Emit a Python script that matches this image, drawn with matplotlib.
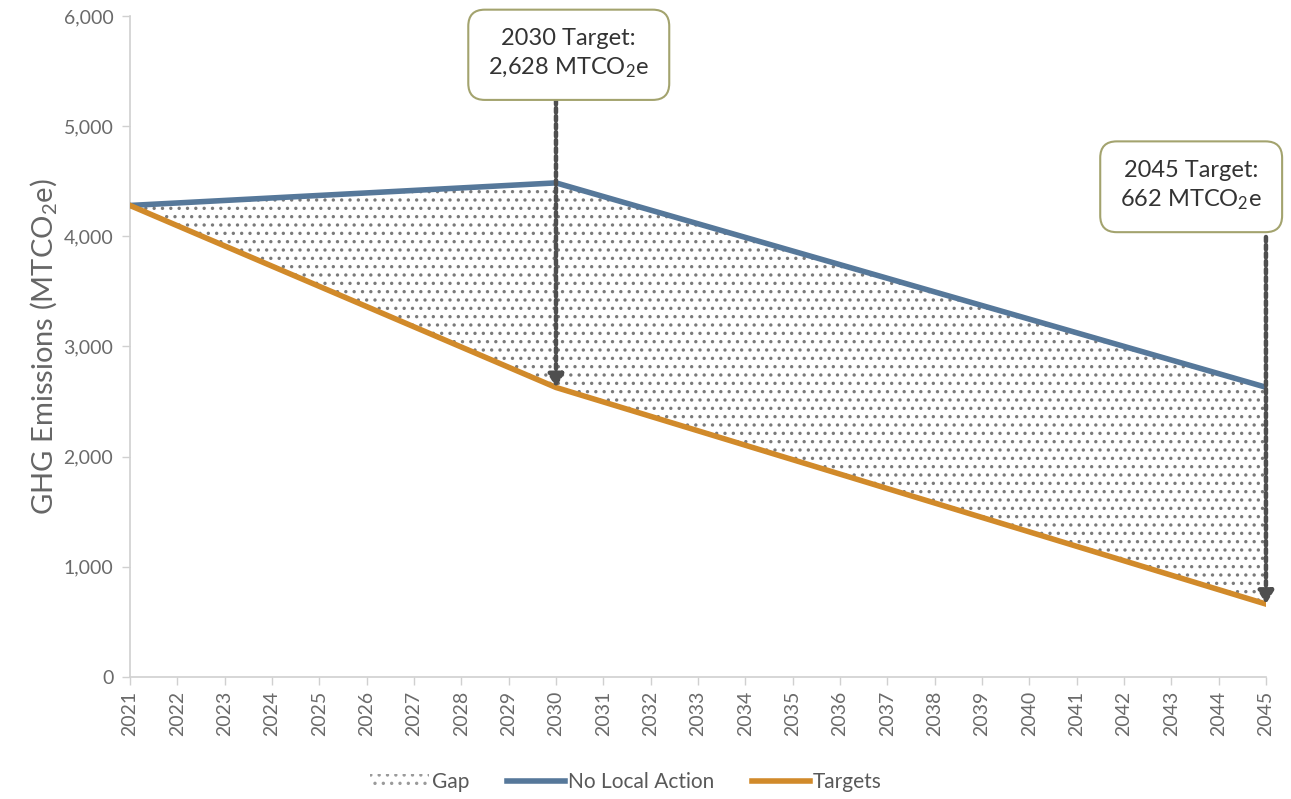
import matplotlib
matplotlib.use("Agg")
import matplotlib.pyplot as plt
import matplotlib.patches as mpatches
from matplotlib.lines import Line2D
from matplotlib.ticker import FuncFormatter

plt.rcParams['font.family'] = ['Lato', 'DejaVu Sans']
plt.rcParams['mathtext.fontset'] = 'custom'
plt.rcParams['mathtext.rm'] = 'Lato'
plt.rcParams['mathtext.it'] = 'Lato:italic'
plt.rcParams['hatch.color'] = '#7a7a7a'
plt.rcParams['hatch.linewidth'] = 1.2

# 데이터 (꺾이는 연도만)
years = [2021, 2030, 2045]
no_action = [4280, 4485, 2630]
targets = [4280, 2628, 662]
all_years = list(range(2021, 2046))

BLUE = '#56789a'
ORANGE = '#d18a2a'
GRAY = '#595959'
AXIS = '#d0d0d0'

fig = plt.figure(figsize=(12.91, 7.99), dpi=100)
ax = fig.add_axes([0.1007, 0.1527, 0.8799, 0.8273])

ax.fill_between(years, targets, no_action, facecolor='white', edgecolor='#7a7a7a',
                hatch='..', linewidth=0, zorder=1)
ax.plot(years, no_action, color=BLUE, lw=4, solid_joinstyle='round', zorder=3)
ax.plot(years, targets, color=ORANGE, lw=4, solid_joinstyle='round', zorder=3)

ax.set_xlim(2021, 2045)
ax.set_ylim(0, 6000)
ax.set_xticks(all_years)
ax.set_xticklabels([str(y) for y in all_years], rotation=90)
ax.set_yticks(range(0, 6001, 1000))
ax.yaxis.set_major_formatter(FuncFormatter(lambda v, p: f'{int(v):,}'))
ax.tick_params(axis='both', colors=AXIS, labelcolor='#6a6a6a', labelsize=14, length=6, width=1)
ax.tick_params(axis='x', pad=4)
ax.tick_params(axis='y', pad=6)
for s in ['top', 'right']:
    ax.spines[s].set_visible(False)
for s in ['left', 'bottom']:
    ax.spines[s].set_color(AXIS)
    ax.spines[s].set_linewidth(1.2)
ax.set_ylabel('GHG Emissions (MTCO$_2$e)', fontsize=21, color='#666666', labelpad=3)

box = dict(boxstyle='round,pad=0.85,rounding_size=0.7', fc='white', ec='#a3a36e', lw=1.5)
arrow = dict(arrowstyle='-|>,head_length=0.75,head_width=0.45', linestyle=(0, (1, 0.8)),
             lw=3.2, color='#4f4f4f', shrinkA=0, shrinkB=0)

# 박스 텍스트
ax.text(2030.27, 5655, '2030 Target:\n2,628 MTCO$_2$e', ha='center', va='center',
        fontsize=17, color='#333333', linespacing=1.35, bbox=box, zorder=5, clip_on=False)
ax.text(2043.42, 4457, '2045 Target:\n662 MTCO$_2$e', ha='center', va='center',
        fontsize=17, color='#333333', linespacing=1.35, bbox=box, zorder=5, clip_on=False)

# 수직 점선 화살표
ax.annotate('', xy=(2030, targets[1]), xytext=(2030, 5237), arrowprops=arrow,
            zorder=4, annotation_clip=False)
ax.annotate('', xy=(2045, targets[2]), xytext=(2045, 3994), arrowprops=arrow,
            zorder=4, annotation_clip=False)

handles = [
    mpatches.Patch(facecolor='white', edgecolor='#9a9a9a', hatch='..', linewidth=0, label='Gap'),
    Line2D([], [], color=BLUE, lw=4, label='No Local Action'),
    Line2D([], [], color=ORANGE, lw=4, label='Targets'),
]
fig.legend(handles=handles, loc='center', bbox_to_anchor=(0.485, 0.021), ncol=3, frameon=False,
           fontsize=15, labelcolor=GRAY, handlelength=2.8, handletextpad=0.15, columnspacing=1.8)

plt.savefig('out.png', dpi=100)
